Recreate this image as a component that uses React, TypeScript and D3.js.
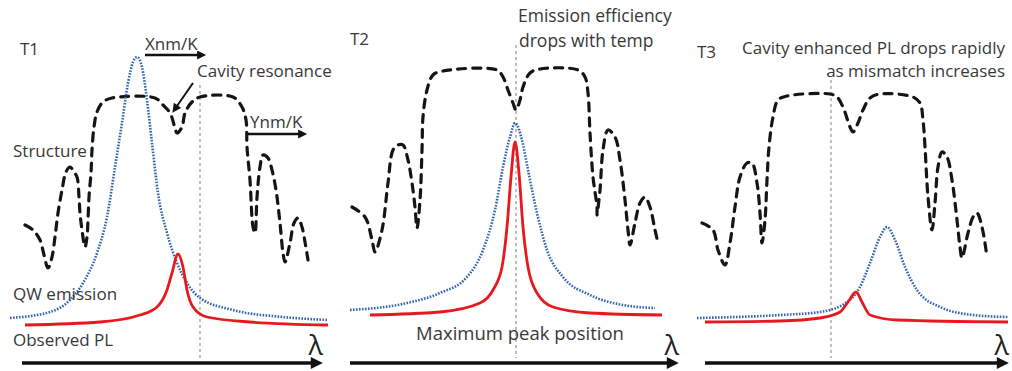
import React from 'react';
import * as d3 from 'd3';

type Pt = [number, number];

// Wavelength (a.u., per panel) vs. signal (a.u.) for each temperature panel.
const panelNames = ['T1', 'T2', 'T3'];

// Structure reflectance: DBR stop band with the cavity dip and side lobes.
const structureT1: Pt[] = [
  [25, 135], [33, 130], [40, 120], [44, 105], [48, 92], [52, 103], [55, 123], [58, 147],
  [62, 170], [66, 188], [70, 193], [74, 188], [77, 183], [79, 163], [80, 147], [82, 130],
  [85, 113], [87, 123], [88, 140], [89, 163], [91, 187], [92, 210], [94, 233], [97, 248],
  [103, 258], [112, 262], [155, 262], [163, 255], [170, 247], [175, 232], [177, 227],
  [182, 233], [185, 247], [192, 258], [200, 263], [233, 263], [242, 253], [246, 240],
  [247, 213], [250, 180], [253, 133], [255, 127], [257, 163], [260, 193], [263, 205],
  [268, 202], [272, 190], [276, 170], [280, 137], [283, 107], [285, 98], [290, 117],
  [294, 137], [298, 142], [302, 133], [305, 118], [308, 100],
];
const structureT2: Pt[] = [
  [12, 153], [25, 143], [32, 120], [35, 108], [42, 130], [48, 177], [53, 210], [58, 215],
  [63, 215], [68, 200], [72, 177], [75, 153], [77, 132], [80, 160], [82, 210], [83, 243],
  [87, 270], [93, 285], [103, 289], [157, 290], [163, 283], [168, 270], [173, 257],
  [176, 250], [180, 260], [183, 273], [190, 287], [200, 291], [238, 290], [245, 283],
  [248, 267], [250, 227], [253, 183], [257, 153], [257, 145], [260, 170], [263, 210],
  [268, 230], [275, 223], [280, 200], [285, 160], [288, 130], [290, 115], [295, 137],
  [300, 157], [305, 163], [310, 153], [315, 130], [318, 117],
];
const structureT3: Pt[] = [
  [22, 137], [33, 130], [38, 110], [45, 95], [50, 117], [55, 153], [60, 183], [67, 197],
  [72, 197], [77, 177], [80, 147], [82, 117], [85, 140], [87, 180], [89, 213], [93, 243],
  [98, 260], [107, 264], [150, 266], [157, 263], [163, 253], [170, 233], [173, 228],
  [178, 237], [183, 250], [190, 262], [200, 266], [233, 263], [240, 257], [243, 240],
  [245, 213], [248, 163], [252, 130], [255, 157], [258, 193], [262, 208], [267, 203],
  [272, 180], [277, 140], [280, 113], [282, 102], [288, 127], [293, 143], [297, 147],
  [302, 133], [307, 103],
];

// Quantum-well emission spectrum.
const qwEmissionT1: Pt[] = [
  [10, 42], [50, 48], [70, 60], [83, 77], [97, 107], [107, 143], [115, 193], [122, 237],
  [128, 277], [133, 298], [137, 303], [142, 293], [147, 260], [152, 217], [158, 167],
  [167, 127], [177, 97], [187, 77], [200, 62], [233, 50], [283, 43], [328, 40],
];
const qwEmissionT2: Pt[] = [
  [10, 50], [67, 57], [100, 67], [127, 83], [143, 110], [155, 150], [163, 193], [170, 223],
  [175, 237], [182, 220], [188, 190], [197, 147], [207, 110], [223, 83], [250, 65],
  [283, 55], [315, 52],
];
const qwEmissionT3: Pt[] = [
  [17, 42], [100, 45], [140, 48], [167, 58], [180, 73], [190, 97], [200, 123], [207, 133],
  [215, 120], [225, 93], [237, 70], [260, 53], [293, 45], [328, 43],
];

// Observed photoluminescence.
const observedPLT1: Pt[] = [
  [25, 35], [100, 38], [140, 45], [157, 53], [167, 70], [172, 87], [178, 106], [183, 93],
  [187, 70], [193, 53], [207, 43], [250, 38], [328, 35],
];
const observedPLT2: Pt[] = [
  [30, 45], [100, 48], [140, 57], [153, 70], [162, 93], [167, 133], [171, 183], [175, 218],
  [179, 187], [183, 133], [188, 93], [197, 67], [213, 53], [250, 47], [322, 45],
];
const observedPLT3: Pt[] = [
  [25, 38], [100, 39], [140, 42], [160, 48], [168, 58], [176, 68], [182, 58], [190, 45],
  [217, 40], [328, 38],
];

// Reference wavelength markers: position and vertical extent.
const markerLambda = [200, 176, 151];
const markerTop = [275, 315, 280];

// Wavelength axis extent in each panel.
const axisStart = [22, 10, 25];
const axisEnd = [322, 338, 328];

const structures = [structureT1, structureT2, structureT3];
const qwEmissions = [qwEmissionT1, qwEmissionT2, qwEmissionT3];
const observedPLs = [observedPLT1, observedPLT2, observedPLT3];

const W = 1012;
const H = 371;
const PANEL_W = 332;
const panelLeft = [0, 340, 680];

const FONT = "'Open Sans', 'Noto Sans', sans-serif";
const TEXT = '#383838';

const yScale = d3.scaleLinear().domain([0, 300]).range([360, 60]);

function Panel({ i }: { i: number }) {
  const x = d3.scaleLinear().domain([0, PANEL_W]).range([panelLeft[i], panelLeft[i] + PANEL_W]);
  const structLine = d3
    .line<Pt>()
    .x((d) => x(d[0]))
    .y((d) => yScale(d[1]))
    .curve(d3.curveCatmullRom.alpha(0.5));
  const specLine = d3
    .line<Pt>()
    .x((d) => x(d[0]))
    .y((d) => yScale(d[1]))
    .curve(d3.curveMonotoneX);
  const axisY = yScale(0) + 3;
  return (
    <g>
      <line
        x1={x(markerLambda[i])}
        x2={x(markerLambda[i])}
        y1={yScale(markerTop[i])}
        y2={yScale(2)}
        stroke="#8c8c8c"
        strokeWidth={1.1}
        strokeDasharray="3 3"
      />
      <path
        d={structLine(structures[i]) || ''}
        fill="none"
        stroke="#151515"
        strokeWidth={3.2}
        strokeDasharray="8 7"
        strokeLinecap="round"
      />
      <path
        d={specLine(qwEmissions[i]) || ''}
        fill="none"
        stroke="#3466ad"
        strokeWidth={2.6}
        strokeDasharray="1.6 1.4"
      />
      <path
        d={specLine(observedPLs[i]) || ''}
        fill="none"
        stroke="#e8191e"
        strokeWidth={2.8}
      />
      <line
        x1={x(axisStart[i])}
        x2={x(axisEnd[i]) - 10}
        y1={axisY}
        y2={axisY}
        stroke="#111"
        strokeWidth={3.5}
        markerEnd="url(#bigHead)"
      />
      <text
        x={x(axisEnd[i]) + 1}
        y={axisY - 8}
        textAnchor="end"
        fontFamily={FONT}
        fontSize={27}
        fill="#222"
      >
        λ
      </text>
    </g>
  );
}

export default function App() {
  const t = { fontFamily: FONT, fill: TEXT, fontSize: 17 } as const;
  return (
    <svg
      width={W}
      height={H}
      viewBox={`0 0 ${W} ${H}`}
      style={{ position: 'absolute', left: 0, top: 0, background: '#fff' }}
    >
      <defs>
        <marker
          id="bigHead"
          viewBox="0 0 10 10"
          refX="1"
          refY="5"
          markerUnits="userSpaceOnUse"
          markerWidth="14"
          markerHeight="12"
          orient="auto"
        >
          <path d="M0,0 L10,5 L0,10 Z" fill="#111" />
        </marker>
        <marker
          id="smallHead"
          viewBox="0 0 10 10"
          refX="1"
          refY="5"
          markerUnits="userSpaceOnUse"
          markerWidth="11"
          markerHeight="9"
          orient="auto"
        >
          <path d="M0,0 L10,5 L0,10 Z" fill="#111" />
        </marker>
      </defs>

      {panelNames.map((_, i) => (
        <Panel key={i} i={i} />
      ))}

      {/* T1 annotations */}
      <text x={20} y={55} {...t}>{panelNames[0]}</text>
      <text x={145} y={50} {...t}>Xnm/K</text>
      <line x1={145} x2={198} y1={55} y2={55} stroke="#111" strokeWidth={2.5} markerEnd="url(#smallHead)" />
      <text x={197} y={77} {...t}>Cavity resonance</text>
      <line x1={193} y1={83} x2={177} y2={106} stroke="#111" strokeWidth={2} markerEnd="url(#smallHead)" />
      <text x={250} y={128} {...t}>Ynm/K</text>
      <line x1={248} x2={299} y1={134} y2={134} stroke="#111" strokeWidth={2.5} markerEnd="url(#smallHead)" />
      <text x={13} y={157} {...t}>Structure</text>
      <text x={13} y={300} {...t}>QW emission</text>
      <text x={13} y={346} {...t}>Observed PL</text>

      {/* T2 annotations */}
      <text x={350} y={45} {...t}>{panelNames[1]}</text>
      <text x={518} y={22} {...t} fontSize={17.5}>Emission efficiency</text>
      <text x={519} y={47} {...t} fontSize={17.5}>drops with temp</text>
      <text x={520} y={340} textAnchor="middle" {...t} fontSize={18.5}>Maximum peak position</text>

      {/* T3 annotations */}
      <text x={697} y={58} {...t}>{panelNames[2]}</text>
      <text x={1005} y={54} textAnchor="end" {...t}>Cavity enhanced PL drops rapidly</text>
      <text x={1005} y={77} textAnchor="end" {...t}>as mismatch increases</text>
    </svg>
  );
}
